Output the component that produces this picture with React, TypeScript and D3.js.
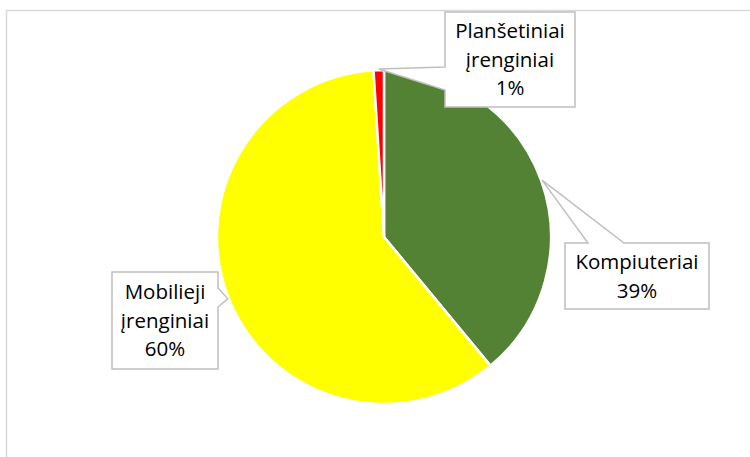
import React from "react";
import * as d3 from "d3";

const categories = ["Kompiuteriai", "Mobilieji įrenginiai", "Planšetiniai įrenginiai"];
const labelLines = [["Kompiuteriai"], ["Mobilieji", "įrenginiai"], ["Planšetiniai", "įrenginiai"]];
const values = [39, 60, 1];
const colors = ["#548235", "#FFFF00", "#FF0000"];

const W = 750;
const H = 457;
const CX = 384;
const CY = 237;
const R = 167;

// callout boxes (layout)
const boxes = [
  { x: 565, y: 243, w: 144, h: 66, side: "top", a: 588, b: 624 },
  { x: 112, y: 272, w: 106, h: 97, side: "right", a: 288, b: 307 },
  { x: 445, y: 12, w: 130, h: 95, side: "left", a: 67, b: 90 },
];

function calloutPath(bx: any, tip: [number, number]) {
  const { x, y, w, h, side, a, b } = bx;
  const x2 = x + w;
  const y2 = y + h;
  const [tx, ty] = tip;
  if (side === "top") {
    return `M${x},${y} H${a} L${tx},${ty} L${b},${y} H${x2} V${y2} H${x} Z`;
  }
  if (side === "right") {
    return `M${x},${y} H${x2} V${a} L${tx},${ty} L${x2},${b} V${y2} H${x} Z`;
  }
  // left
  return `M${x},${y} H${x2} V${y2} H${x} V${b} L${tx},${ty} L${x},${a} Z`;
}

export default function App() {
  const pie = d3.pie<number>().sort(null).value((d) => d);
  const arcs = pie(values);
  const arc = d3.arc<d3.PieArcDatum<number>>().innerRadius(0).outerRadius(R);
  const edge = d3.arc<d3.PieArcDatum<number>>().innerRadius(R + 1).outerRadius(R + 1);
  const total = d3.sum(values);
  const fontSize = 20.5;
  const ls = 28.5;

  return (
    <svg
      width={W}
      height={H}
      style={{ position: "absolute", left: 0, top: 0, background: "#fff" }}
      fontFamily="'Open Sans', sans-serif"
    >
      <rect x={6.5} y={10.5} width={800} height={500} fill="#fff" stroke="#d9d9d9" strokeWidth={1.5} />
      <g transform={`translate(${CX},${CY})`}>
        {arcs.map((d, i) => (
          <path key={i} d={arc(d) as string} fill={colors[i]} stroke="#fff" strokeWidth={2.5} strokeLinejoin="miter" />
        ))}
      </g>
      {arcs.map((d, i) => {
        const c = edge.centroid(d);
        const tip: [number, number] = [CX + c[0], CY + c[1]];
        const bx = boxes[i];
        const lines = [...labelLines[i], `${Math.round((values[i] / total) * 100)}%`];
        const cy = bx.y + bx.h / 2;
        const first = cy - ((lines.length - 1) * ls) / 2 + 0.36 * fontSize;
        return (
          <g key={"l" + i}>
            <path d={calloutPath(bx, tip)} fill="#fff" stroke="#bfbfbf" strokeWidth={1.5} strokeLinejoin="miter" />
            <text
              x={bx.x + bx.w / 2}
              textAnchor="middle"
              fontSize={fontSize}
              fill="#000"
            >
              {lines.map((t, j) => (
                <tspan key={j} x={bx.x + bx.w / 2} y={first + j * ls}>
                  {t}
                </tspan>
              ))}
            </text>
          </g>
        );
      })}
    </svg>
  );
}
